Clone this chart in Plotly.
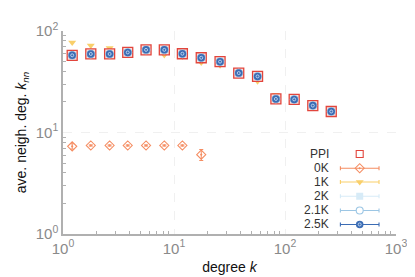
import plotly.graph_objects as go

# ---- data ----
k = [1.21, 1.78, 2.63, 3.83, 5.6, 8.18, 11.9, 17.6, 26.0, 38.3, 56.6, 82.8, 121, 178, 261]
ppi = [57.6, 59.4, 59.4, 61.5, 65.2, 65.2, 59.7, 54.5, 49.9, 38.5, 35.7, 21.4, 21.2, 18.4, 16.1]
k0_k = [1.21, 1.78, 2.63, 3.83, 5.6, 8.18, 11.9, 17.6]
k0 = [7.3, 7.45, 7.45, 7.45, 7.45, 7.45, 7.45, 6.05]
k0_err = [0.45, 0.1, 0.1, 0.1, 0.1, 0.1, 0.1, 0.75]
k1 = [77, 72, 68, 61, 63, 58, 56, 49, 46, 38, 32, 23.5, 20.5, 17.8, 16.2]
k2 = [57.5, 59.2, 59.2, 61.4, 65.0, 65.0, 59.6, 54.4, 49.8, 38.4, 35.6, 21.4, 21.1, 18.4, 16.0]
k21 = [57.6, 59.3, 59.3, 61.5, 65.1, 65.1, 59.7, 54.5, 49.9, 38.5, 35.7, 21.4, 21.2, 18.4, 16.1]
k25 = [57.6, 59.4, 59.4, 61.5, 65.2, 65.2, 59.7, 54.5, 49.9, 38.5, 35.7, 21.4, 21.2, 18.4, 16.1]
legend_names = ["PPI", "0K", "1K", "2K", "2.1K", "2.5K"]

RED = "#e2453c"
ORANGE = "#f58d62"
YELLOW = "#f9cf6a"
LBLUE2 = "#d7ebf7"
LBLUE = "#9cc6e4"
DBLUE = "#3b6cb4"
FONT = "Liberation Sans, Arial, sans-serif"
DOT = "rgba(215,232,250,0.85)"

fig = go.Figure()

# 0K
fig.add_trace(go.Scatter(x=k0_k, y=k0, mode="markers",
    error_y=dict(type="data", array=k0_err, color=ORANGE, thickness=1, width=2),
    marker=dict(symbol="diamond-open-dot", size=7, color=ORANGE, line=dict(width=1.1, color=ORANGE))))
# 1K
fig.add_trace(go.Scatter(x=k, y=k1, mode="markers",
    marker=dict(symbol="triangle-down", size=7, color=YELLOW, line=dict(width=0))))
# 2K
fig.add_trace(go.Scatter(x=k, y=k2, mode="markers",
    marker=dict(symbol="square", size=8, color=LBLUE2, line=dict(width=0))))
# PPI
fig.add_trace(go.Scatter(x=k, y=ppi, mode="markers",
    marker=dict(symbol="square", size=10, color="#fbe0de", line=dict(width=1.3, color=RED))))
# 2.1K
fig.add_trace(go.Scatter(x=k, y=k21, mode="markers",
    marker=dict(symbol="circle-open", size=8, color=LBLUE, line=dict(width=1, color=LBLUE))))
# 2.5K
fig.add_trace(go.Scatter(x=k, y=k25, mode="markers",
    marker=dict(symbol="circle", size=7.5, color=DBLUE, line=dict(width=0))))
fig.add_trace(go.Scatter(x=k, y=k25, mode="markers",
    marker=dict(symbol="circle-open", size=3, color=DOT, line=dict(width=0.9, color=DOT))))

# ---- manual legend on overlay axes ----
leg_y = [0.394, 0.324, 0.256, 0.186, 0.116, 0.047]
sx = 0.891
half = 0.058
fig.add_trace(go.Scatter(x=[sx], y=[leg_y[0]], xaxis="x2", yaxis="y2", mode="markers",
    marker=dict(symbol="square-open", size=7, color=RED, line=dict(width=1.1, color=RED))))
fig.add_trace(go.Scatter(x=[sx], y=[leg_y[1]], xaxis="x2", yaxis="y2", mode="markers",
    error_x=dict(type="constant", value=half, color=ORANGE, thickness=1.1, width=2),
    marker=dict(symbol="diamond-open-dot", size=7, color=ORANGE, line=dict(width=1.1, color=ORANGE))))
fig.add_trace(go.Scatter(x=[sx], y=[leg_y[2]], xaxis="x2", yaxis="y2", mode="markers",
    error_x=dict(type="constant", value=half, color=YELLOW, thickness=1.1, width=2),
    marker=dict(symbol="triangle-down", size=7, color=YELLOW)))
fig.add_trace(go.Scatter(x=[sx], y=[leg_y[3]], xaxis="x2", yaxis="y2", mode="markers",
    error_x=dict(type="constant", value=half, color=LBLUE2, thickness=1.1, width=2),
    marker=dict(symbol="square", size=7, color=LBLUE2)))
fig.add_trace(go.Scatter(x=[sx], y=[leg_y[4]], xaxis="x2", yaxis="y2", mode="markers",
    error_x=dict(type="constant", value=half, color=LBLUE, thickness=1.1, width=2),
    marker=dict(symbol="circle", size=7, color="white", line=dict(width=1.1, color=LBLUE))))
fig.add_trace(go.Scatter(x=[sx], y=[leg_y[5]], xaxis="x2", yaxis="y2", mode="markers",
    error_x=dict(type="constant", value=half, color=DBLUE, thickness=1.1, width=2),
    marker=dict(symbol="circle", size=7.5, color=DBLUE)))
fig.add_trace(go.Scatter(x=[sx], y=[leg_y[5]], xaxis="x2", yaxis="y2", mode="markers",
    marker=dict(symbol="circle-open", size=3, color=DOT, line=dict(width=0.9, color=DOT))))

for name, yy in zip(legend_names, leg_y):
    fig.add_annotation(x=0.805, y=yy, xref="x2", yref="y2", text=name, showarrow=False,
                       xanchor="right", yanchor="middle", font=dict(family=FONT, size=12, color="#333"))

tick_x = [1, 10, 100, 1000]
tick_y = [1, 10, 100]
minor_x = [m * d for d in (1, 10, 100) for m in range(2, 10)]
minor_y = [m * d for d in (1, 10) for m in range(2, 10)]


def axis_style(minor_vals):
    return dict(
        tickfont=dict(size=15, color="#8a8a8a"),
        showline=True, linecolor="#b0b0b0", linewidth=1.5,
        ticks="", showgrid=True, gridcolor="#f0f0f0", griddash="dash", gridwidth=1,
        zeroline=False,
        minor=dict(tickmode="array", tickvals=minor_vals, ticks="inside", ticklen=3,
                   tickcolor="#b0b0b0", tickwidth=1, showgrid=False),
    )


fig.update_layout(
    width=415, height=277,
    margin=dict(l=54, r=27, t=17, b=48),
    paper_bgcolor="white", plot_bgcolor="white",
    showlegend=False,
    font=dict(family=FONT, color="#888"),
    xaxis=dict(type="log", range=[0, 3], tickvals=tick_x,
               ticktext=["10<sup>0</sup>", "10<sup>1</sup>", "10<sup>2</sup>", "10<sup>3</sup>"],
               title=dict(text="degree <i>k</i>", font=dict(size=14, color="#111"), standoff=6),
               **axis_style(minor_x)),
    yaxis=dict(type="log", range=[0, 2], tickvals=tick_y,
               ticktext=["10<sup>0</sup>", "10<sup>1</sup>", "10<sup>2</sup>"],
               title=dict(text="ave. neigh. deg. <i>k</i><sub><i>nn</i></sub>",
                          font=dict(size=14, color="#111"), standoff=6),
               **axis_style(minor_y)),
    xaxis2=dict(overlaying="x", range=[0, 1], visible=False, fixedrange=True),
    yaxis2=dict(overlaying="y", range=[0, 1], visible=False, fixedrange=True, anchor="x2"),
)

fig.write_html("out.html")
